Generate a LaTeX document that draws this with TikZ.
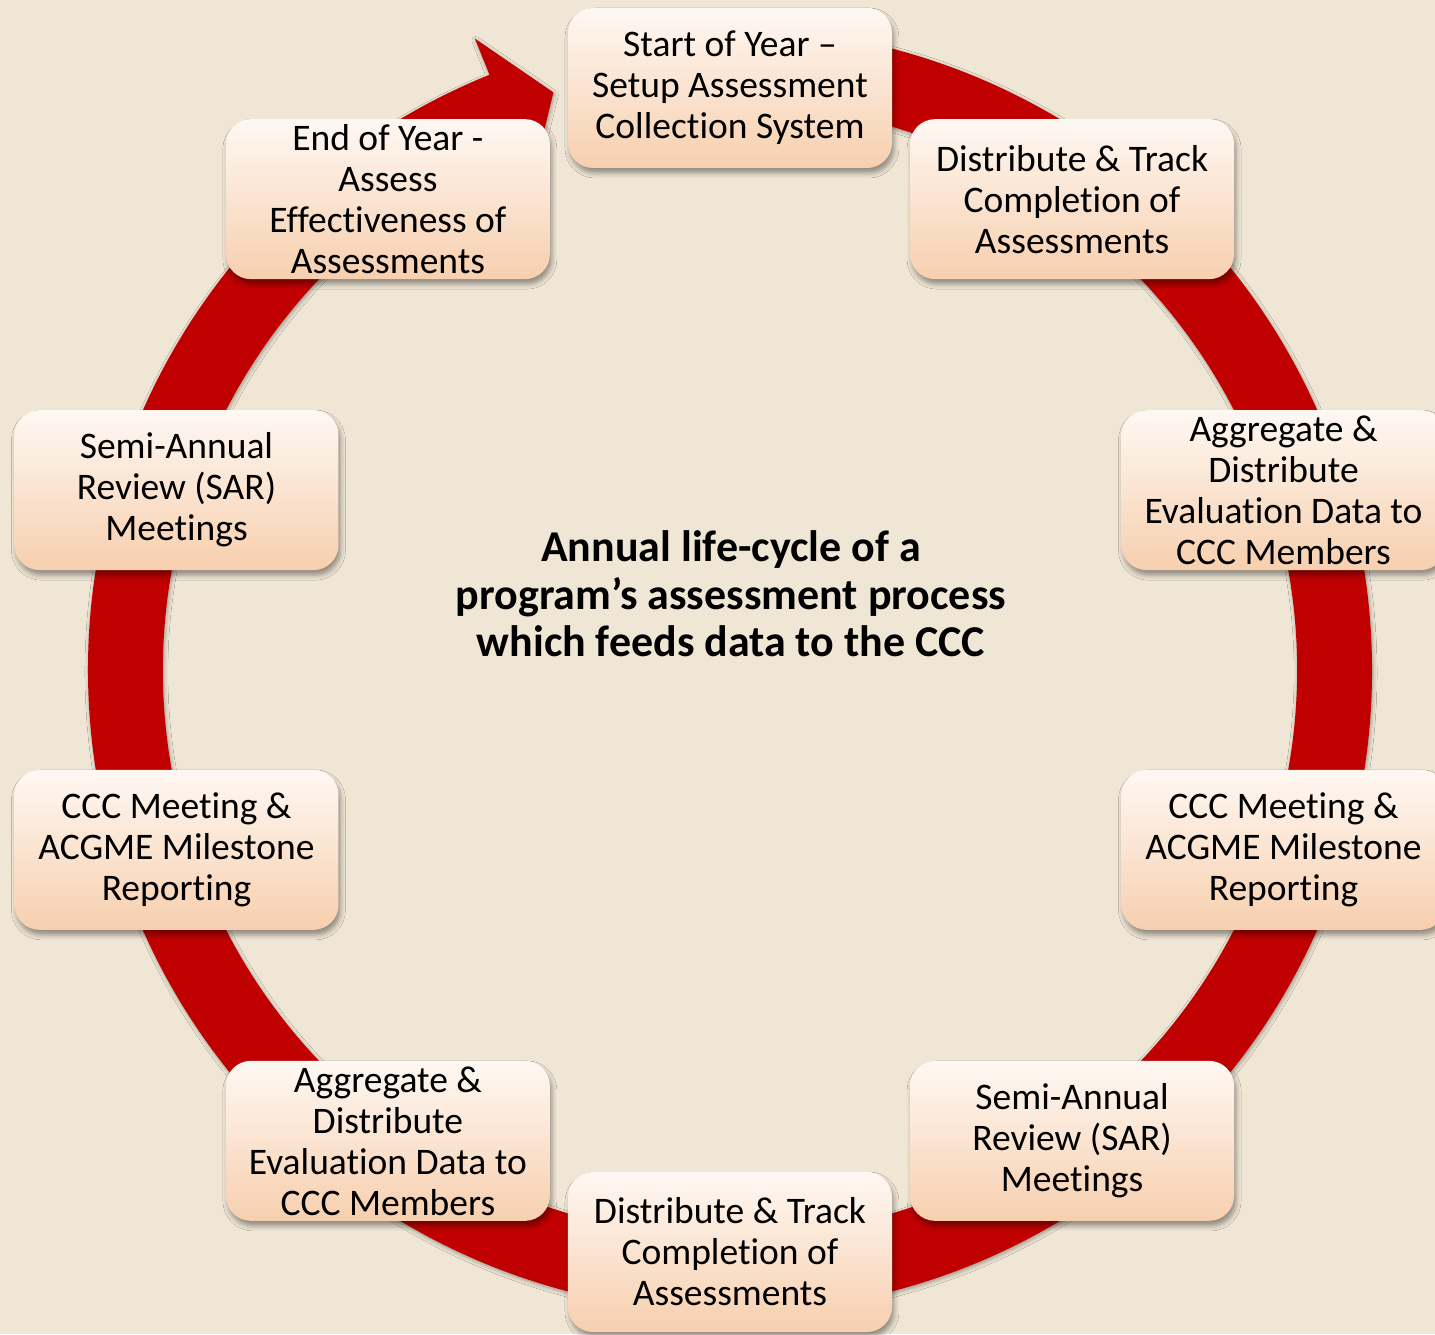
\documentclass[tikz,border=0pt]{standalone}
\usepackage{fontspec}
\setmainfont{Carlito}[Ligatures={TeX,NoCommon}]
\usetikzlibrary{shadows.blur}
\definecolor{bgbeige}{HTML}{EFE6D5}
\definecolor{ringred}{HTML}{C00000}
\definecolor{boxtop}{HTML}{FEF8F3}
\definecolor{boxbottom}{HTML}{F7CFAE}
\begin{document}
\begin{tikzpicture}[x=1pt,y=1pt,
  stage/.style={rounded corners=25pt,minimum width=324pt,minimum height=160pt,inner sep=0pt,
    align=center,top color=boxtop,bottom color=boxbottom,font=\fontsize{37.5}{41}\selectfont,
    blur shadow={shadow xshift=2pt,shadow yshift=-5pt,shadow blur radius=5pt,shadow opacity=40}}]
\useasboundingbox (-730,-664) rectangle (705,670);
\clip (-730,-664) rectangle (705,670);
\fill[bgbeige] (-730,-664) rectangle (705,670);
\fill[ringred,blur shadow={shadow xshift=1pt,shadow yshift=-2pt,shadow blur radius=4pt,shadow opacity=35}]
  (95:642) arc[start angle=95,end angle=-248,radius=642] -- (112:681) -- (107:604)
  -- (112:528) -- (112:567) arc[start angle=-248,end angle=95,radius=567] -- cycle;
\node[stage] (start) at (90:582) {Start of Year –\\Setup Assessment\\Collection System};
\node[stage] (trackA) at (54:582) {Distribute \& Track\\Completion of\\Assessments};
\node[stage] (aggrA) at (18:582) {Aggregate \&\\Distribute\\Evaluation Data to\\CCC Members};
\node[stage] (cccA) at (-18:582) {CCC Meeting \&\\ACGME Milestone\\Reporting};
\node[stage] (sarA) at (-54:582) {Semi-Annual\\Review (SAR)\\Meetings};
\node[stage] (trackB) at (-90:582) {Distribute \& Track\\Completion of\\Assessments};
\node[stage] (aggrB) at (-126:582) {Aggregate \&\\Distribute\\Evaluation Data to\\CCC Members};
\node[stage] (cccB) at (-162:582) {CCC Meeting \&\\ACGME Milestone\\Reporting};
\node[stage] (sarB) at (162:582) {Semi-Annual\\Review (SAR)\\Meetings};
\node[stage] (finish) at (126:582) {End of Year -\\Assess\\Effectiveness of\\Assessments};
\node[align=center,font=\bfseries\fontsize{44}{47.5}\selectfont] (title) at (1,76)
  {Annual life-cycle of a\\program’s assessment process\\which feeds data to the CCC};
\end{tikzpicture}
\end{document}
